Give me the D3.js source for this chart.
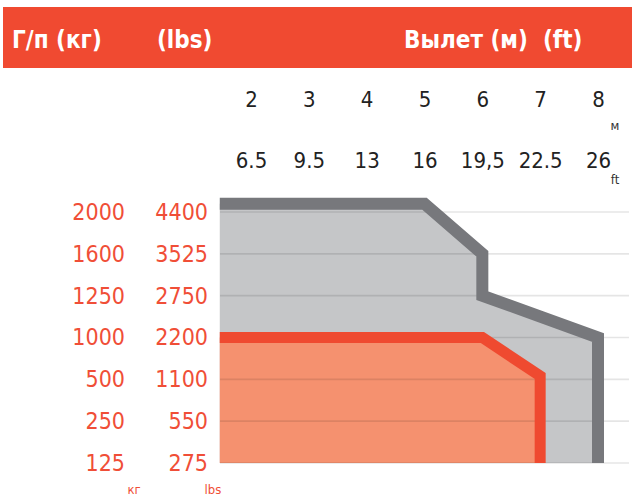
<!DOCTYPE html>
<html><head><meta charset="utf-8">
<script src="https://cdn.jsdelivr.net/npm/d3@7"></script>
<style>
html,body{margin:0;padding:0;background:#fff;}
svg{display:block;}
text{font-family:"DejaVu Sans Condensed","DejaVu Sans",sans-serif;}
</style></head>
<body>
<script>
// ---- data ----
const kgTicks = [125, 250, 500, 1000, 1250, 1600, 2000];
const lbsTicks = [275, 550, 1100, 2200, 2750, 3525, 4400];
const reachM = [2, 3, 4, 5, 6, 7, 8];
const reachFt = ["6.5", "9.5", "13", "16", "19,5", "22.5", "26"];
// outer (grey) load curve: [reach m, load kg]
const greyCurve = [[1.46, 2080], [5, 2080], [6, 1600], [6, 1250], [8, 1000], [8, 125]];
// inner (orange) load curve
const orangeCurve = [[1.46, 1000], [6, 1000], [7, 540], [7, 125]];

const W = 635, H = 497;
const svg = d3.select("body").append("svg").attr("width", W).attr("height", H);

// header band
svg.append("rect").attr("x", 3).attr("y", 7).attr("width", 629).attr("height", 61).attr("fill", "#f04a31");
const hdr = [["Г/п (кг)", 12], ["(lbs)", 157], ["Вылет (м)  (ft)", 404]];
svg.selectAll("text.hdr").data(hdr).join("text").attr("class", "hdr")
  .attr("x", d => d[1]).attr("y", 48).attr("fill", "#fff")
  .attr("font-size", 24).attr("font-weight", "bold")
  .attr("xml:space", "preserve").style("white-space", "pre")
  .text(d => d[0]);

// scales
const x = d3.scaleLinear().domain([2, 8]).range([251, 598]);
const yIdx = d3.scaleLinear().domain([0, kgTicks.length - 1]).range([463, 212]);
const y = d3.scaleLinear().domain(kgTicks).range(kgTicks.map((d, i) => yIdx(i)));
const xLeft = 220, xRight = 629;

// fills
const areaGen = pts => {
  const poly = pts.map(p => [x(p[0]), y(p[1])]);
  poly.push([x(pts[0][0]), y(kgTicks[0])]);
  return "M" + poly.map(p => p.join(",")).join("L") + "Z";
};
svg.append("path").attr("d", areaGen(greyCurve)).attr("fill", "#c5c6c8");
svg.append("path").attr("d", areaGen(orangeCurve)).attr("fill", "#f5916f");

// gridlines
svg.append("g").selectAll("line").data(kgTicks).join("line")
  .attr("x1", xLeft).attr("x2", xRight)
  .attr("y1", d => y(d)).attr("y2", d => y(d))
  .attr("stroke", "#000").attr("stroke-opacity", 0.1).attr("stroke-width", 1.6);

// outlines
const line = d3.line().x(d => x(d[0])).y(d => y(d[1]));
svg.append("path").attr("d", line(greyCurve)).attr("fill", "none")
  .attr("stroke", "#77787c").attr("stroke-width", 12).attr("stroke-linejoin", "miter");
svg.append("path").attr("d", line(orangeCurve)).attr("fill", "none")
  .attr("stroke", "#ef4a30").attr("stroke-width", 11).attr("stroke-linejoin", "miter");

// y axes (kg and lbs)
const axKg = d3.axisLeft(y).tickValues(kgTicks).tickSize(0).tickPadding(0).tickFormat(d3.format("d"));
const gKg = svg.append("g").attr("transform", "translate(125,0)").call(axKg);
const axLbs = d3.axisLeft(y).tickValues(kgTicks).tickSize(0).tickPadding(0)
  .tickFormat(d => lbsTicks[kgTicks.indexOf(d)]);
const gLbs = svg.append("g").attr("transform", "translate(208,0)").call(axLbs);
[gKg, gLbs].forEach(g => {
  g.select(".domain").remove();
  g.selectAll("text").attr("fill", "#f04e37").attr("font-size", 23)
    .style("font-family", '"DejaVu Sans Condensed","DejaVu Sans",sans-serif');
});
svg.append("text").attr("x", 134).attr("y", 494).attr("text-anchor", "middle")
  .attr("fill", "#f04e37").attr("font-size", 13).text("кг");
svg.append("text").attr("x", 213).attr("y", 494).attr("text-anchor", "middle")
  .attr("fill", "#f04e37").attr("font-size", 13).text("lbs");

// x axes (m and ft)
const axM = d3.axisTop(x).tickValues(reachM).tickSize(0).tickPadding(0).tickFormat(d3.format("d"));
const gM = svg.append("g").attr("transform", "translate(0,107)").call(axM);
const axFt = d3.axisTop(x).tickValues(reachM).tickSize(0).tickPadding(0)
  .tickFormat(d => reachFt[reachM.indexOf(d)]);
const gFt = svg.append("g").attr("transform", "translate(0,168)").call(axFt);
[gM, gFt].forEach(g => {
  g.select(".domain").remove();
  g.selectAll("text").attr("fill", "#222").attr("font-size", 22)
    .style("font-family", '"DejaVu Sans Condensed","DejaVu Sans",sans-serif');
});
svg.append("text").attr("x", 615).attr("y", 130).attr("text-anchor", "middle")
  .attr("fill", "#333").attr("font-size", 13).text("м");
svg.append("text").attr("x", 615).attr("y", 184).attr("text-anchor", "middle")
  .attr("fill", "#333").attr("font-size", 13).text("ft");
</script>
</body></html>
